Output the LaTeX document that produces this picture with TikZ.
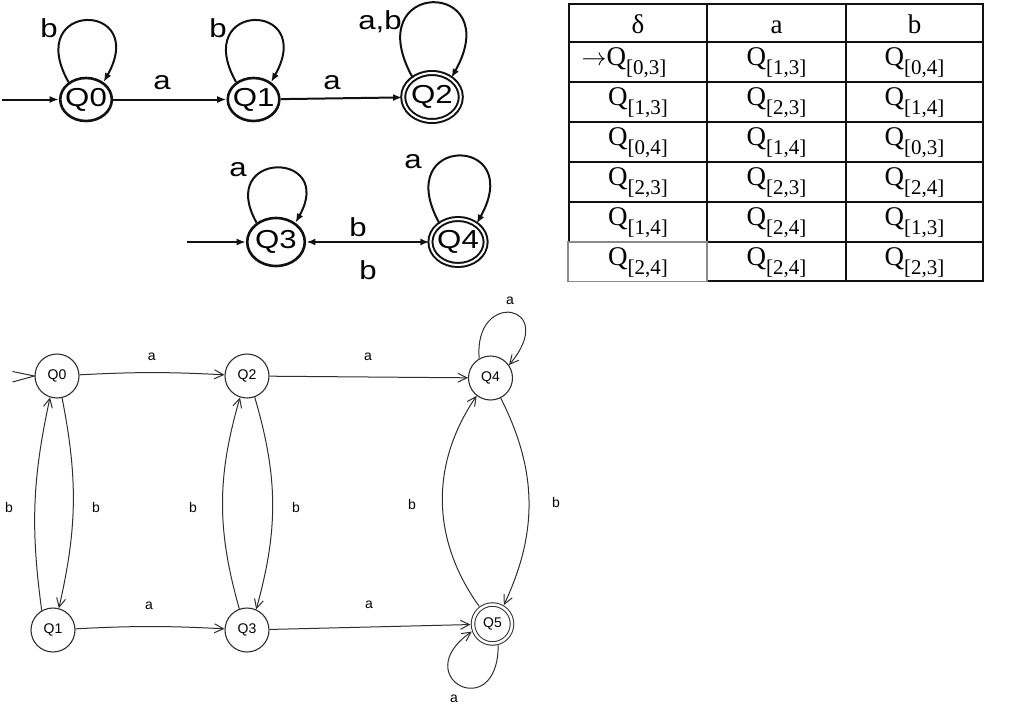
\documentclass[tikz,border=0pt]{standalone}
\usepackage{fontspec}
\setmainfont{Liberation Serif}
\setsansfont{Liberation Sans}
\usepackage{tikz}
\usetikzlibrary{arrows.meta,calc,positioning}
\definecolor{inkblack}{HTML}{111111}
\definecolor{pengray}{HTML}{2E2E2E}
\definecolor{cellgray}{HTML}{8A8A8A}
\newcommand{\qsub}[1]{Q\raisebox{-9pt}{\fontsize{21}{21}\selectfont #1}}
\tikzset{
  bigstate/.style={circle,draw=inkblack,line width=2.6pt,minimum size=43pt,
    inner sep=0pt,font=\sffamily\fontsize{26}{26}\selectfont},
  bigfinal/.style={bigstate,double,line width=2pt,double distance=2pt},
  bigtext/.style={font=\sffamily\fontsize{26}{26}\selectfont,inner sep=0pt},
  bigarrow/.style={-{Latex[length=9pt,width=7pt]},line width=2pt,draw=inkblack},
  smallstate/.style={circle,draw=pengray,line width=1.1pt,minimum size=44pt,
    inner sep=0pt,font=\sffamily\fontsize{14}{14}\selectfont},
  smallfinal/.style={smallstate,double,line width=1pt,double distance=2.5pt,
    minimum size=39pt,outer sep=2.5pt},
  smalltext/.style={font=\sffamily\fontsize{14}{14}\selectfont,inner sep=0pt},
  smallarrow/.style={-{Straight Barb[length=9pt,width=9pt]},line width=1pt,draw=pengray},
  cell/.style={font=\fontsize{27}{27}\selectfont,inner sep=0pt,anchor=base},
  rule/.style={line width=1.4pt,draw=inkblack},
}

\begin{document}
\begin{tikzpicture}[x=1pt,y=1pt]
  \useasboundingbox (0,0) rectangle (1009,-707);

  % first automaton (stretched sideways like the source)
  \begin{scope}[xscale=1.2,transform shape]
    \node[bigstate] (q0) at (71.7,-99.5) {Q0};
    \node[bigstate] (q1) at (211.3,-99.5) {Q1};
    \node[bigfinal,minimum size=48pt] (q2) at (360,-97) {Q2};
    \node[bigstate,minimum size=48pt] (q3) at (230,-242) {Q3};
    \node[bigfinal,minimum size=46pt] (q4) at (381.7,-242) {Q4};
    \coordinate (s0) at (1.7,-99.5);
    \coordinate (s3) at (155.8,-242);

    \draw[bigarrow] (s0) -- (q0);
    \draw[bigarrow] (q0) -- (q1);
    \draw[bigarrow] (q1) -- (q2);
    \draw[bigarrow] (s3) -- (q3);
    \draw[bigarrow,{Latex[length=9pt,width=7pt]}-{Latex[length=9pt,width=7pt]}] (q3) -- (q4);

    \draw[bigarrow] (q0.130) .. controls +(115:90) and +(65:90) .. (q0.50);
    \draw[bigarrow] (q1.130) .. controls +(115:90) and +(65:90) .. (q1.50);
    \draw[bigarrow] (q2.130) .. controls +(115:110) and +(65:110) .. (q2.50);
    \draw[bigarrow] (q3.130) .. controls +(115:80) and +(65:80) .. (q3.50);
    \draw[bigarrow] (q4.130) .. controls +(115:99) and +(65:99) .. (q4.50);

    \node[bigtext] (lb0) at (40.8,-28) {b};
    \node[bigtext] (lb1) at (181.7,-28) {b};
    \node[bigtext] (lab2) at (316.7,-22) {a,b};
    \node[bigtext] (la01) at (135,-83) {a};
    \node[bigtext] (la12) at (276.7,-83) {a};
    \node[bigtext] (la3) at (198.3,-170) {a};
    \node[bigtext] (la4) at (344.2,-162) {a};
    \node[bigtext] (lb34) at (298.3,-227) {b};
    \node[bigtext] (lb43) at (306.7,-270) {b};
  \end{scope}

  % transition table
  \draw[rule] (569,-242) -- (569,-4) -- (983,-4) -- (983,-281) -- (707,-281);
  \foreach \yy in {42,82,122,162,202}
    \draw[rule] (569,-\yy) -- (983,-\yy);
  \draw[rule] (707,-242) -- (983,-242);
  \draw[rule] (707,-4) -- (707,-281);
  \draw[rule] (846,-4) -- (846,-281);
  \draw[line width=1.4pt,draw=cellgray] (568,-242) rectangle (707,-281.5);

  \node[cell] (hd) at (638,-33) {δ};
  \node[cell] (ha) at (776.5,-33) {a};
  \node[cell] (hb) at (914.5,-33) {b};
  \node[cell] (c-1-1) at (624,-65) {$\rightarrow$\qsub{[0,3]}};
  \foreach \r/\ca/\cb/\cc in {1/{}/{[1,3]}/{[0,4]},
      2/{[1,3]}/{[2,3]}/{[1,4]},
      3/{[0,4]}/{[1,4]}/{[0,3]},
      4/{[2,3]}/{[2,3]}/{[2,4]},
      5/{[1,4]}/{[2,4]}/{[1,3]},
      6/{[2,4]}/{[2,4]}/{[2,3]}} {
    \pgfmathsetmacro{\ry}{-25-40*\r}
    \ifnum\r>1
      \node[cell] (c-\r-1) at (638,\ry) {\qsub{\ca}};
    \fi
    \node[cell] (c-\r-2) at (776.5,\ry) {\qsub{\cb}};
    \node[cell] (c-\r-3) at (914.5,\ry) {\qsub{\cc}};
  }

  % second automaton
  \node[smallstate] (n0) at (57,-376) {Q0};
  \node[smallstate] (n2) at (247,-376) {Q2};
  \node[smallstate] (n4) at (490.5,-378) {Q4};
  \node[smallstate] (n1) at (53,-630) {Q1};
  \node[smallstate] (n3) at (247,-630) {Q3};
  \node[smallfinal] (n5) at (492.5,-624) {Q5};

  \draw[line width=1pt,pengray] ($(n0.west)+(-22,4.5)$) -- (n0.west) -- ($(n0.west)+(-22,-6)$);

  \draw[smallarrow] (n0) to[bend left=3] (n2);
  \draw[smallarrow] (n2) -- (n4);
  \draw[smallarrow] (n1) to[bend left=3] (n3);
  \draw[smallarrow] (n3) -- (n5);
  \draw[smallarrow] (n1.120) to[bend left=10] (n0.252);
  \draw[smallarrow] (n0.283) to[bend left=12] (n1.75);
  \draw[smallarrow] (n3.110) to[bend left=16] (n2.252);
  \draw[smallarrow] (n2.290) to[bend left=16] (n3.66);
  \draw[smallarrow] (n5.127) to[bend left=35] (n4.232);
  \draw[smallarrow] (n4.297) to[bend left=26] (n5.59);
  \draw[smallarrow] (n4.120) .. controls +(95:70) and +(50:80) .. (n4.35);
  \draw[smallarrow] (n5.-75) .. controls +(-90:80) and +(215:80) .. (n5.200);

  \node[smalltext] (m02) at (151.7,-357) {a};
  \node[smalltext] (m24) at (368,-357) {a};
  \node[smalltext] (m44) at (510,-301) {a};
  \node[smalltext] (m10) at (9,-507) {b};
  \node[smalltext] (m01) at (96,-507) {b};
  \node[smalltext] (m32) at (193,-507) {b};
  \node[smalltext] (m23) at (296,-507) {b};
  \node[smalltext] (m54) at (412,-504) {b};
  \node[smalltext] (m45) at (556,-502) {b};
  \node[smalltext] (m13) at (149,-606) {a};
  \node[smalltext] (m35) at (369,-605) {a};
  \node[smalltext] (m55) at (454,-699) {a};
\end{tikzpicture}
\end{document}
